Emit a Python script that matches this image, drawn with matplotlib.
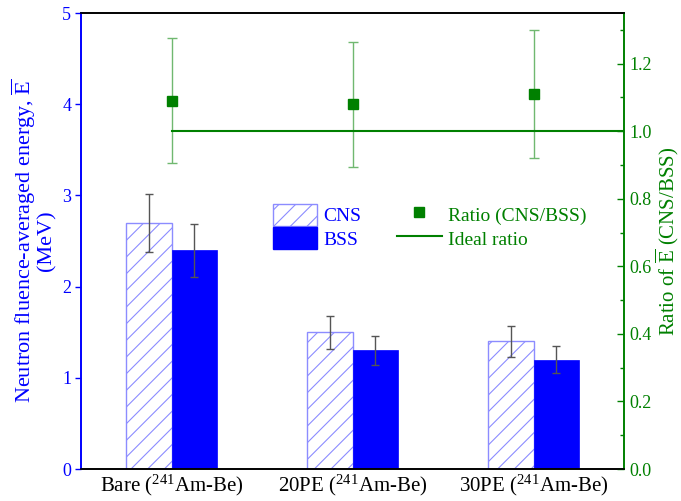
import matplotlib
matplotlib.use("Agg")
import matplotlib.pyplot as plt
import numpy as np
from matplotlib.patches import Patch
from matplotlib.lines import Line2D
from matplotlib.ticker import MultipleLocator

plt.rcParams["font.family"] = ["Liberation Serif", "DejaVu Serif"]
plt.rcParams["mathtext.fontset"] = "custom"
plt.rcParams["mathtext.rm"] = "Liberation Serif"
plt.rcParams["mathtext.it"] = "Liberation Serif:italic"
plt.rcParams["hatch.linewidth"] = 0.8

# data
categories = ["Bare ($^{241}$Am-Be)", "20PE ($^{241}$Am-Be)", "30PE ($^{241}$Am-Be)"]
cns = [2.70, 1.50, 1.40]
cns_err = [0.32, 0.18, 0.17]
bss = [2.40, 1.30, 1.20]
bss_err = [0.29, 0.16, 0.15]
ratio = [1.09, 1.08, 1.11]
ratio_err = [0.185, 0.185, 0.19]
ideal = 1.0

blue = "#0000ff"
light_blue = "#8c8cff"
green = "#008000"
light_green = "#70b870"

fig = plt.figure(figsize=(6.81, 5.01), dpi=100)
ax = fig.add_axes([81 / 681, 32 / 501, 543 / 681, 456 / 501])
ax2 = ax.twinx()

x = np.arange(len(categories))
w = 0.25

ax.bar(x - w / 2, cns, w, color="white", edgecolor=light_blue, hatch="//",
       linewidth=1.0, zorder=2)
ax.bar(x + w / 2, bss, w, color=blue, edgecolor=blue, linewidth=0.5, zorder=2)
ax.errorbar(x - w / 2, cns, yerr=cns_err, fmt="none", ecolor="#555555",
            elinewidth=1.0, capsize=3, capthick=1.0, zorder=3)
ax.errorbar(x + w / 2, bss, yerr=bss_err, fmt="none", ecolor="#555555",
            elinewidth=1.0, capsize=3, capthick=1.0, zorder=3)

ax.set_xlim(-0.5, 2.5)
ax.set_ylim(0, 5)
ax.set_xticks(x)
ax.set_xticklabels(categories, fontsize=15)
ax.set_yticks([0, 1, 2, 3, 4, 5])
ax.tick_params(axis="x", length=0, pad=3)
ax.tick_params(axis="y", direction="out", length=4, width=1, colors=blue,
               labelsize=13, pad=3)
ax.set_ylabel("Neutron fluence-averaged energy, $\\overline{\\mathrm{E}}$\n(MeV)",
              color=blue, fontsize=16, linespacing=0.95, labelpad=4)

ax2.errorbar(x, ratio, yerr=ratio_err, fmt="none", ecolor=light_green,
             elinewidth=1.0, capsize=3.5, capthick=1.0, zorder=3)
ax2.plot([0, 2.5], [ideal, ideal], color=green, linewidth=1.5, zorder=4)
ax2.plot(x, ratio, "s", color=green, markersize=6.5, zorder=5)
ax2.set_ylim(0, 1.35)
ax2.yaxis.set_major_locator(MultipleLocator(0.2))
ax2.yaxis.set_minor_locator(MultipleLocator(0.1))
ax2.yaxis.set_major_formatter(matplotlib.ticker.FormatStrFormatter("%.1f"))
ax2.tick_params(axis="y", which="major", direction="in", length=5, width=1,
                colors=green, labelsize=13, pad=4)
ax2.tick_params(axis="y", which="minor", direction="in", length=3, width=1,
                colors=green)
ax2.set_ylabel("Ratio of $\\overline{\\mathrm{E}}$ (CNS/BSS)", color=green,
               fontsize=15, labelpad=1)

for a in (ax, ax2):
    a.spines["left"].set_color(blue)
    a.spines["right"].set_color(green)
    a.spines["top"].set_color("black")
    a.spines["bottom"].set_color("black")
    for s in a.spines.values():
        s.set_linewidth(1.2)

h1 = [Patch(facecolor="white", edgecolor=light_blue, hatch="//", label="CNS"),
      Patch(facecolor=blue, edgecolor=blue, label="BSS")]
leg1 = ax.legend(handles=h1, loc="upper left", bbox_to_anchor=(0.353, 0.582),
                 frameon=False, fontsize=14, handlelength=2.3, handleheight=1.4,
                 labelspacing=0.05, handletextpad=0.3, borderpad=0,
                 borderaxespad=0)
for t in leg1.get_texts():
    t.set_color(blue)

h2 = [Line2D([], [], marker="s", color=green, linestyle="none", markersize=6.5,
             label="Ratio (CNS/BSS)"),
      Line2D([], [], color=green, linewidth=1.5, label="Ideal ratio")]
leg2 = ax2.legend(handles=h2, loc="upper left", bbox_to_anchor=(0.582, 0.582),
                  frameon=False, fontsize=14, handlelength=2.3, handleheight=1.4,
                  labelspacing=0.05, handletextpad=0.3, borderpad=0,
                  borderaxespad=0)
for t in leg2.get_texts():
    t.set_color(green)

fig.savefig("out.png", dpi=100)
